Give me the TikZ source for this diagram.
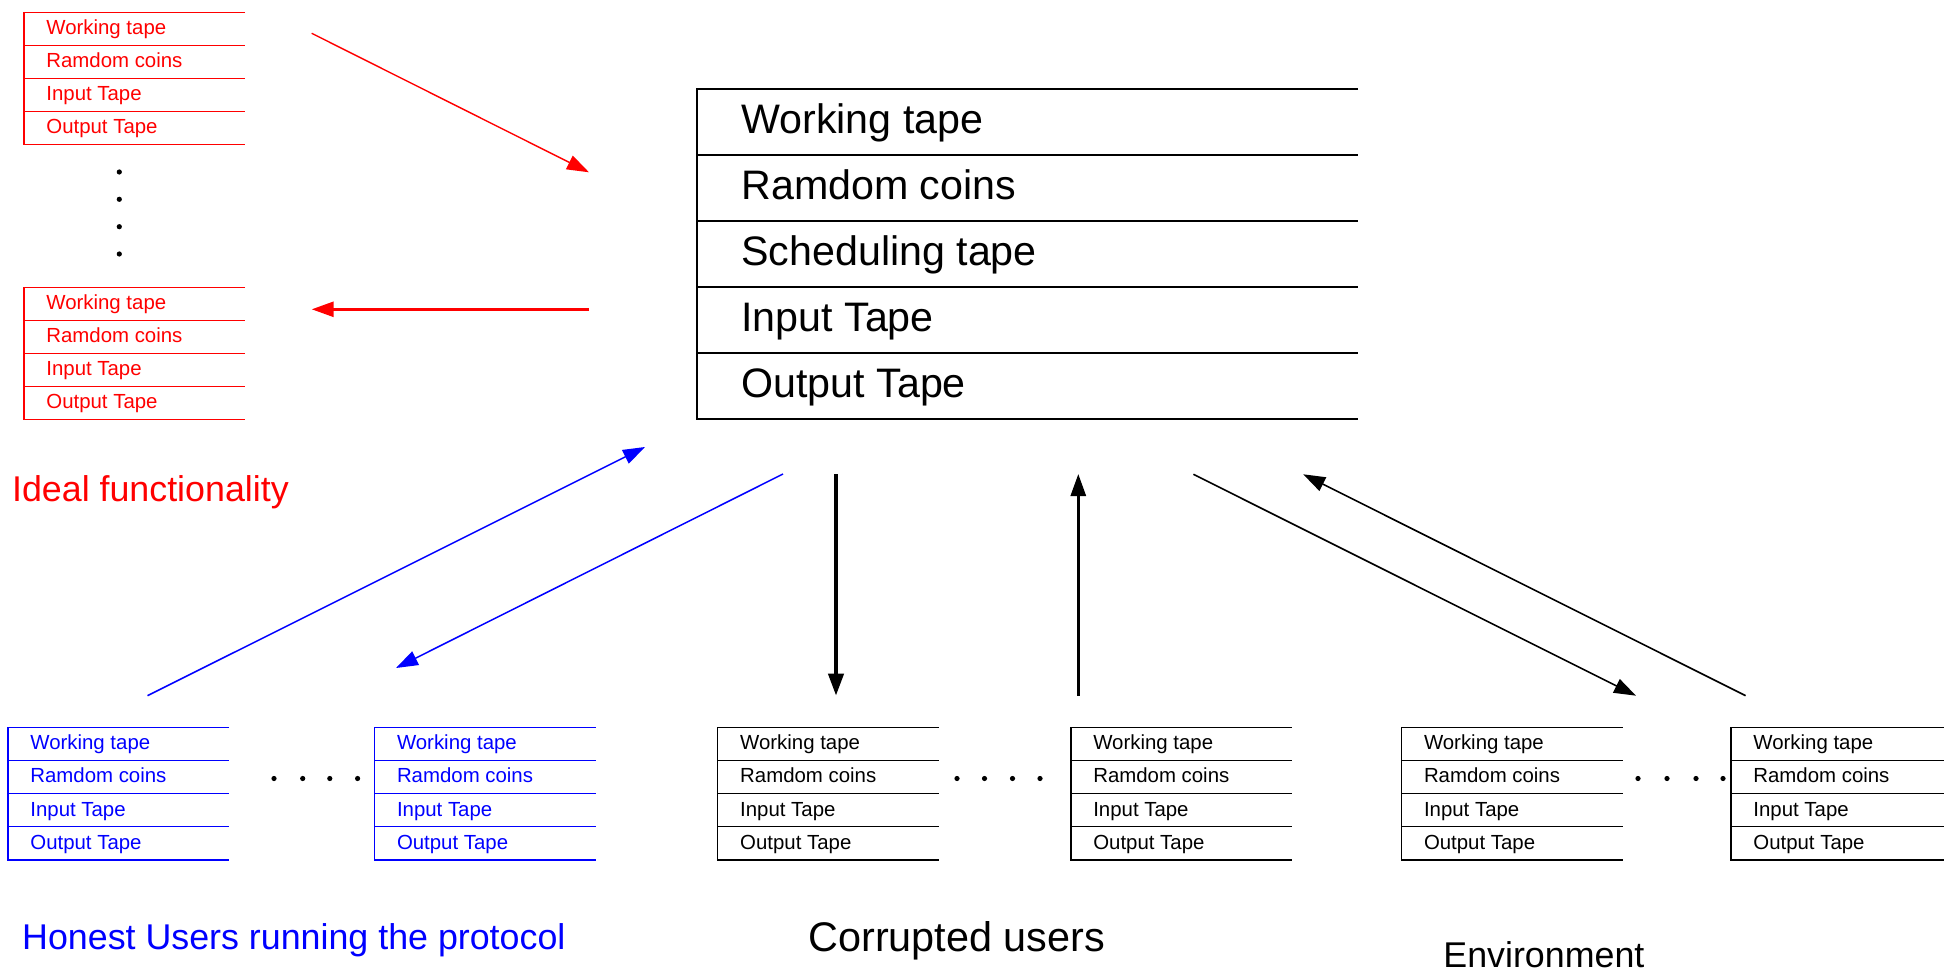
\documentclass[tikz,border=0pt]{standalone}
\usepackage{fontspec}
\setmainfont{Liberation Sans}
\usetikzlibrary{arrows.meta}
\definecolor{pred}{RGB}{255,0,0}
\definecolor{pblue}{RGB}{0,0,255}
\tikzset{
  tapeline/.style={line width=0.65pt},
  smalltxt/.style={anchor=base west, inner sep=0pt, font=\fontsize{10.2pt}{12pt}\selectfont},
  bigtxt/.style={anchor=base west, inner sep=0pt, font=\fontsize{20.6pt}{24pt}\selectfont},
  labeltxt/.style={anchor=base west, inner sep=0pt, font=\fontsize{17.9pt}{21pt}\selectfont},
  arr/.style={-{Triangle[length=11pt,width=7.5pt]}},
  dotmark/.style={fill=black, draw=none},
}
% #1 name prefix, #2 left x, #3 top y, #4 colour
\newcommand{\tapebox}[4]{%
  \begin{scope}[shift={(#2,#3)}]
    \draw[tapeline, #4] (221,0) -- (0,0) -- (0,132.4) -- (221,132.4);
    \foreach \k in {1,2,3} \draw[tapeline, #4] (0,\k*33.1) -- (221,\k*33.1);
    \node[smalltxt, text=#4] (#1-w) at (22,22.3) {Working tape};
    \node[smalltxt, text=#4] (#1-r) at (22,22.3+33.1) {Ramdom coins};
    \node[smalltxt, text=#4] (#1-i) at (22,22.3+66.2) {Input Tape};
    \node[smalltxt, text=#4] (#1-o) at (22,22.3+99.3) {Output Tape};
  \end{scope}}
\begin{document}
\begin{tikzpicture}[x=0.5pt, y=-0.5pt]
\useasboundingbox (0,0) rectangle (1944,973);

% ideal functionality boxes (red)
\tapebox{fa}{24}{12.4}{pred}
\tapebox{fb}{24}{287.3}{pred}
\foreach \yy in {172,199.3,226.7,254} \fill[dotmark] (119.3,\yy) circle (2.6);

% main box
\begin{scope}[shift={(697,89.3)}]
  \draw[line width=1.15pt] (661,0) -- (0,0) -- (0,330) -- (661,330);
  \foreach \k in {1,2,3,4} \draw[line width=1.15pt] (0,\k*66) -- (661,\k*66);
  \node[bigtxt] (m-w) at (44,44) {Working tape};
  \node[bigtxt] (m-r) at (44,44+66) {Ramdom coins};
  \node[bigtxt] (m-s) at (44,44+132) {Scheduling tape};
  \node[bigtxt] (m-i) at (44,44+198) {Input Tape};
  \node[bigtxt] (m-o) at (44,44+264) {Output Tape};
\end{scope}

% bottom boxes
\tapebox{h1}{8}{727.5}{pblue}
\tapebox{h2}{374.6}{727.5}{pblue}
\tapebox{c1}{717.8}{727.5}{black}
\tapebox{c2}{1070.9}{727.5}{black}
\tapebox{e1}{1401.6}{727.5}{black}
\tapebox{e2}{1731}{727.5}{black}
\foreach \xx in {274,302.7,329.8,357.6,957,984.5,1012.5,1040,1638,1667,1696,1723}
  \fill[dotmark] (\xx,778.5) circle (2.6);

% arrow end points
\coordinate (r1s) at (311.7,33.3);   \coordinate (r1e) at (589,172.3);
\coordinate (r2s) at (589,309.3);    \coordinate (r2e) at (311.7,309.3);
\coordinate (b1s) at (147.5,695.7);  \coordinate (b1e) at (645,447);
\coordinate (b2s) at (783,474);      \coordinate (b2e) at (396,668);
\coordinate (k1s) at (836,474);      \coordinate (k1e) at (836,695.7);
\coordinate (k2s) at (1078.3,695.7); \coordinate (k2e) at (1078.3,474);
\coordinate (k3s) at (1193.4,474.3); \coordinate (k3e) at (1636,695.7);
\coordinate (k4s) at (1745.6,695.7); \coordinate (k4e) at (1303.2,474.3);

\draw[arr, pred, line width=0.7pt] (r1s) -- (r1e);
\draw[arr, pred, line width=1.35pt] (r2s) -- (r2e);
\draw[arr, pblue, line width=0.75pt] (b1s) -- (b1e);
\draw[arr, pblue, line width=0.75pt] (b2s) -- (b2e);
\draw[arr, black, line width=2pt] (k1s) -- (k1e);
\draw[arr, black, line width=1.4pt] (k2s) -- (k2e);
\draw[arr, black, line width=0.8pt] (k3s) -- (k3e);
\draw[arr, black, line width=0.8pt] (k4s) -- (k4e);

% labels
\node[labeltxt, text=pred] (lideal) at (11.7,501.7) {Ideal functionality};
\node[labeltxt, text=pblue] (lhonest) at (21.8,949.3) {Honest Users running the protocol};
\node[anchor=base west, inner sep=0pt, font=\fontsize{20.7pt}{24pt}\selectfont] (lcorr) at (808,951) {Corrupted users};
\node[labeltxt] (lenv) at (1443,967) {Environment};
\end{tikzpicture}
\end{document}
